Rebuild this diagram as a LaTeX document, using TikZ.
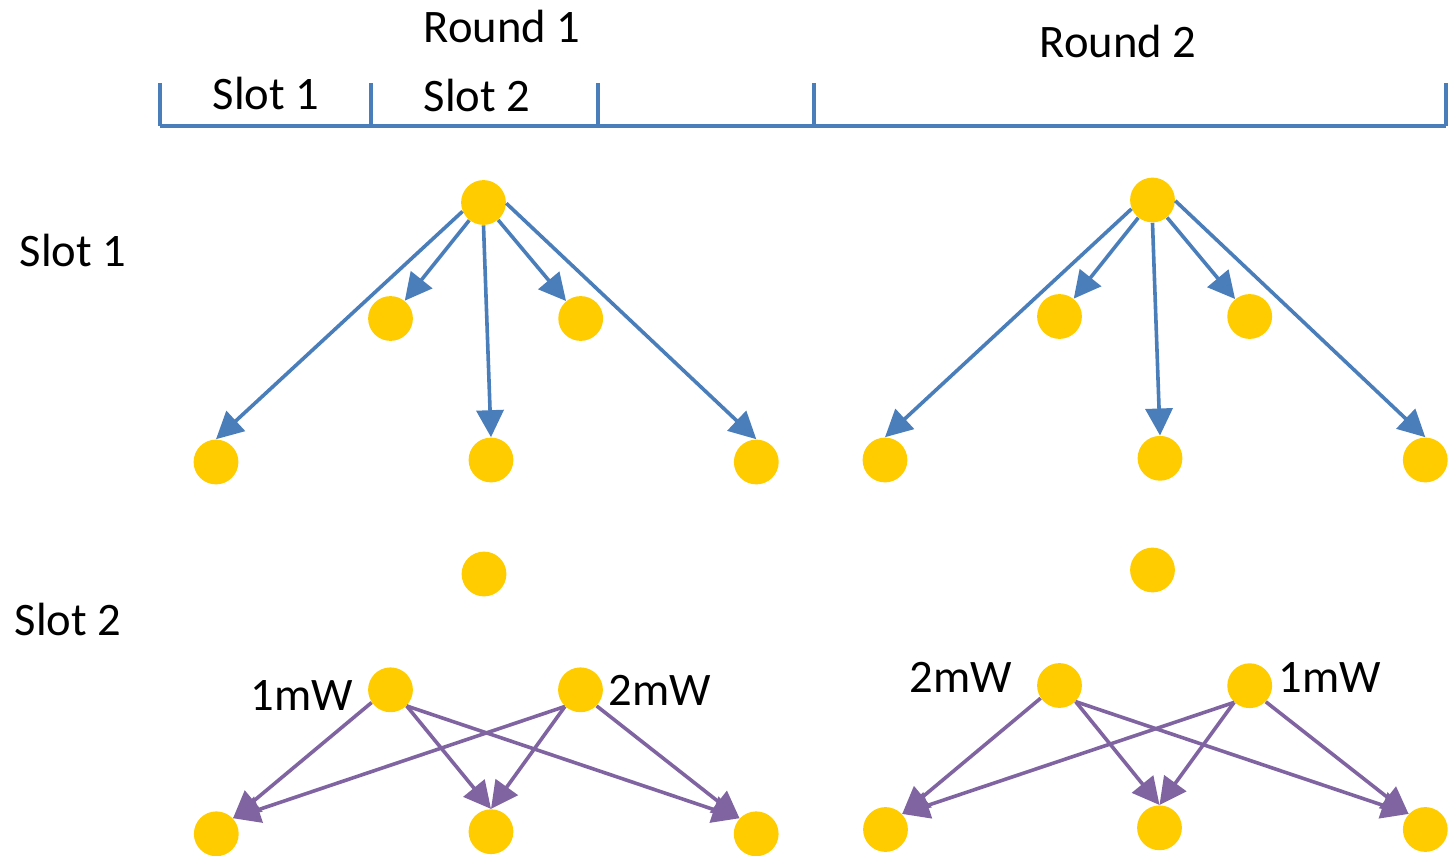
\documentclass[tikz,border=0pt]{standalone}
\usepackage{fontspec}
\setmainfont{Carlito}
\usetikzlibrary{arrows.meta}
\definecolor{lineblue}{HTML}{4A7EBB}
\definecolor{linepurple}{HTML}{8064A2}
\definecolor{nodegold}{HTML}{FFCC00}
\begin{document}
\begin{tikzpicture}[x=0.5pt,y=-0.5pt,
  dev/.style={circle,fill=nodegold,draw=none,minimum size=22.4pt,inner sep=0pt},
  lbl/.style={anchor=base,inner sep=0pt,font=\fontsize{23.3pt}{28pt}\selectfont},
  bcast/.style={draw=lineblue,line width=1.8pt,-{Triangle[length=13.5pt,width=13.5pt]}},
  tx/.style={draw=linepurple,line width=1.8pt,-{Triangle[length=13.5pt,width=13.5pt]}},
  axis/.style={draw=lineblue,line width=1.7pt}]
\useasboundingbox (0,0) rectangle (1448,856);

% timeline with slot ticks
\coordinate (t0) at (160,126);
\coordinate (t1) at (371,126);
\coordinate (t2) at (598,126);
\coordinate (t3) at (814,126);
\coordinate (t4) at (1446,126);
\coordinate (u0) at (160,83);
\coordinate (u1) at (371,83);
\coordinate (u2) at (598,83);
\coordinate (u3) at (814,83);
\coordinate (u4) at (1446,83);
\draw[axis] (t0) -- (t4);
\foreach \i in {0,...,4} \draw[axis] (u\i) -- (t\i);

% header labels
\node[lbl] (r1) at (502,43) {Round 1};
\node[lbl] (r2) at (1118,58) {Round 2};
\node[lbl] (hs1) at (266,110) {Slot 1};
\node[lbl] (hs2) at (477,112) {Slot 2};
\node[lbl] (ls1) at (73,267) {Slot 1};
\node[lbl] (ls2) at (68,635) {Slot 2};

% round 1, slot 1: broadcast
\node[dev] (a0) at (483.5,202.5) {};
\node[dev] (a1) at (390.5,318.5) {};
\node[dev] (a2) at (580.7,318.5) {};
\node[dev] (a3) at (216,462) {};
\node[dev] (a4) at (491,460) {};
\node[dev] (a5) at (756.3,462) {};
\draw[bcast] (a0.203) -- (a3.north);
\draw[bcast] (a0) -- (a1);
\draw[bcast] (a0.south) -- (a4.north);
\draw[bcast] (a0) -- (a2);
\draw[bcast] (a0.-2) -- (a5.north);

% round 2, slot 1: broadcast
\node[dev] (b0) at (1152.5,200) {};
\node[dev] (b1) at (1059.5,316.5) {};
\node[dev] (b2) at (1249.7,316.5) {};
\node[dev] (b3) at (885,460) {};
\node[dev] (b4) at (1160,458.3) {};
\node[dev] (b5) at (1425.3,460) {};
\draw[bcast] (b0.203) -- (b3.north);
\draw[bcast] (b0) -- (b1);
\draw[bcast] (b0.south) -- (b4.north);
\draw[bcast] (b0) -- (b2);
\draw[bcast] (b0.-2) -- (b5.north);

% idle devices
\node[dev] (ia) at (484,574) {};
\node[dev] (ib) at (1152.5,570) {};

% round 1, slot 2: two transmitters
\node[dev] (c1) at (390.5,689.8) {};
\node[dev] (c2) at (580.5,689.8) {};
\node[dev] (c3) at (216.3,833.8) {};
\node[dev] (c4) at (491,831.7) {};
\node[dev] (c5) at (756.2,833.8) {};
\node[lbl] (c1p) at (302,710.7) {1mW};
\node[lbl] (c2p) at (660,705) {2mW};
\draw[tx] (c1.214) -- (c3.43);
\draw[tx] (c1.-45) -- (c4.north);
\draw[tx] (c1.-45) -- (c5.137);
\draw[tx] (c2.227) -- (c3.43);
\draw[tx] (c2.227) -- (c4.north);
\draw[tx] (c2.-45) -- (c5.137);

% round 2, slot 2: two transmitters
\node[dev] (d1) at (1059.5,685.5) {};
\node[dev] (d2) at (1249.7,685.7) {};
\node[dev] (d3) at (885.5,829.5) {};
\node[dev] (d4) at (1159.5,827.8) {};
\node[dev] (d5) at (1425.3,829.5) {};
\node[lbl] (d1p) at (961,692.7) {2mW};
\node[lbl] (d2p) at (1330,692.7) {1mW};
\draw[tx] (d1.214) -- (d3.43);
\draw[tx] (d1.-45) -- (d4.north);
\draw[tx] (d1.-45) -- (d5.137);
\draw[tx] (d2.227) -- (d3.43);
\draw[tx] (d2.227) -- (d4.north);
\draw[tx] (d2.-45) -- (d5.137);
\end{tikzpicture}
\end{document}
